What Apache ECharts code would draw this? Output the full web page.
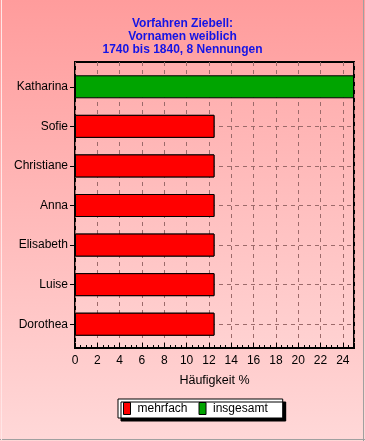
<!DOCTYPE html>
<html><head><meta charset="utf-8">
<script src="https://cdn.jsdelivr.net/npm/echarts@6/dist/echarts.min.js"></script>
<style>html,body{margin:0;padding:0;} #c{width:365px;height:441px;background:linear-gradient(#FF9C9C,#FFD8D8);}</style>
</head><body><div id="c"></div>
<script>
const categories = ['Katharina','Sofie','Christiane','Anna','Elisabeth','Luise','Dorothea'];
const mehrfach = [null,12.5,12.5,12.5,12.5,12.5,12.5];
const insgesamt = [25,12.5,12.5,12.5,12.5,12.5,12.5];
const titleLines = ['Vorfahren Ziebell:','Vornamen weiblich','1740 bis 1840, 8 Nennungen'];
const xName = 'Häufigkeit %';

const FONT = 'Liberation Sans, Arial, sans-serif';
const chart = echarts.init(document.getElementById('c'), null, {renderer:'canvas'});
const gridBg = new echarts.graphic.LinearGradient(0,0,0,1,[{offset:0,color:'#FFACAC'},{offset:1,color:'#FFD2D2'}]);
chart.setOption({
  backgroundColor:'transparent',
  animation:false,
  title:{text:titleLines.join('\n'), left:'center', top:17, padding:0,
    textStyle:{color:'#1414E6', fontSize:12, fontWeight:'bold', lineHeight:13, fontFamily:FONT}},
  grid:[
    {left:75, top:62, width:279, height:286, show:true, backgroundColor:gridBg, borderColor:'#000', borderWidth:2},
    {left:75, top:67, width:279, height:277, show:false}
  ],
  xAxis:[
    {gridIndex:0, type:'value', min:0, max:25, interval:2,
      axisLine:{show:true, lineStyle:{color:'#000', width:2}},
      axisTick:{show:true, inside:true, length:5, lineStyle:{color:'#000'}},
      minorTick:{show:true, splitNumber:4, length:3, lineStyle:{color:'#000'}},
      splitLine:{show:true, lineStyle:{type:[4,4], color:'#9c6a6a', width:1}},
      axisLabel:{color:'#000', fontSize:12, fontFamily:FONT, margin:7, showMaxLabel:false},
      name:xName, nameLocation:'middle', nameGap:26,
      nameTextStyle:{color:'#000', fontSize:12.5, fontFamily:FONT}},
    {gridIndex:1, type:'value', min:0, max:25, show:false}
  ],
  yAxis:[
    {gridIndex:0, type:'value', show:false},
    {gridIndex:1, type:'category', inverse:true, data:categories,
      axisLine:{show:false},
      axisTick:{show:true, alignWithLabel:true, length:5, lineStyle:{color:'#000'}},
      axisLabel:{color:'#000', fontSize:12, fontFamily:FONT, margin:7},
      splitLine:{show:false}}
  ],
  legend:{data:['mehrfach','insgesamt'], left:118, top:399, itemWidth:7, itemHeight:12, itemGap:11,
    padding:[3,15,3,5], backgroundColor:'#fff', borderColor:'#000', borderWidth:1,
    shadowColor:'#000', shadowOffsetX:3, shadowOffsetY:3, shadowBlur:0.01,
    icon:'rect', itemStyle:{borderColor:'#000', borderWidth:1},
    textStyle:{color:'#000', fontSize:12, fontFamily:FONT, padding:[0,0,0,2]}},
  series:[
    {name:'lines', type:'line', xAxisIndex:1, yAxisIndex:1, data:[], z:1,
      markLine:{silent:true, z:1, symbol:'none', label:{show:false}, animation:false,
        lineStyle:{type:[4,4], color:'#9c6a6a', width:1},
        data:categories.map((c,i)=>({yAxis:i}))}},
    {name:'insgesamt', type:'bar', xAxisIndex:1, yAxisIndex:1, data:insgesamt, barWidth:23, barGap:'-100%', z:2,
      itemStyle:{color:'#00A400', borderColor:'#000', borderWidth:1}},
    {name:'mehrfach', type:'bar', xAxisIndex:1, yAxisIndex:1, data:mehrfach, barWidth:23, barGap:'-100%', z:3,
      itemStyle:{color:'#FF0000', borderColor:'#000', borderWidth:1}}
  ],
  graphic:[
    {type:'line', shape:{x1:363.5,y1:0,x2:363.5,y2:441}, style:{stroke:'#a0a0a0', lineWidth:1}},
    {type:'line', shape:{x1:0,y1:439.5,x2:365,y2:439.5}, style:{stroke:'#a0a0a0', lineWidth:1}},
    {type:'line', shape:{x1:1.5,y1:0,x2:1.5,y2:440}, style:{stroke:'#FFE6E6', lineWidth:1}}
  ]
});
</script></body></html>
